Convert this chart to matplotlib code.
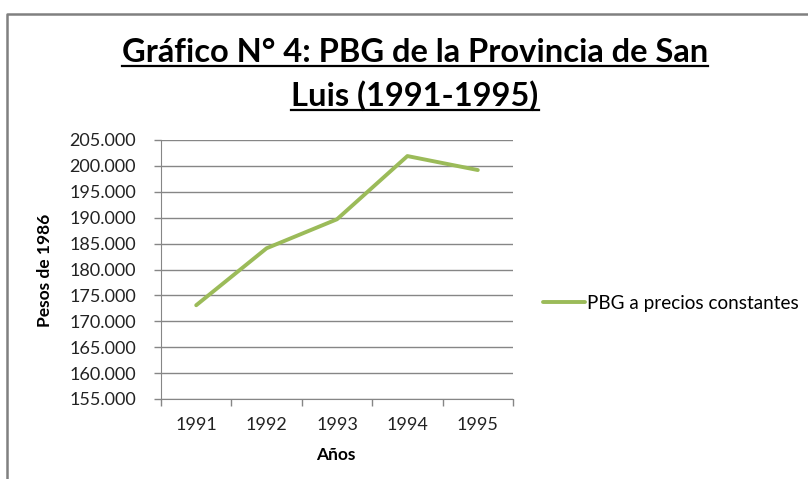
import matplotlib
matplotlib.use("Agg")
import matplotlib.pyplot as plt
from matplotlib.ticker import FuncFormatter
from matplotlib.lines import Line2D

# datos
years = ["1991", "1992", "1993", "1994", "1995"]
pbg = [173100, 184100, 189700, 201900, 199200]
yticks = list(range(155000, 205001, 5000))
title_lines = ["Gráfico N° 4: PBG de la Provincia de San", "Luis (1991-1995)"]
serie = "PBG a precios constantes"

plt.rcParams['font.family'] = ['Lato', 'DejaVu Sans']
W, H = 808, 479
green = "#9BBB59"
gray = "#868686"

fig = plt.figure(figsize=(W/100, H/100), dpi=100)
ax = fig.add_axes([161/W, 1-399/H, (513-161)/W, (399-140)/H])

x = list(range(len(years)))
ax.plot(x, pbg, color=green, lw=2.8, solid_capstyle="round", solid_joinstyle="round", label=serie)

ax.set_xlim(-0.5, len(years)-0.5)
ax.set_ylim(yticks[0], yticks[-1])
ax.set_yticks(yticks)
ax.yaxis.set_major_formatter(FuncFormatter(lambda v, p: f"{int(v):,}".replace(",", ".")))
ax.yaxis.grid(True, color=gray, lw=1)
ax.set_axisbelow(True)

ax.set_xticks([i - 0.5 for i in range(len(years)+1)])
ax.set_xticklabels([])
ax.set_xticks(x, minor=True)
ax.set_xticklabels(years, minor=True)
ax.tick_params(axis='x', which='minor', length=0, pad=13, labelsize=13, colors="#222222")
ax.tick_params(axis='x', which='major', length=5, color=gray, width=1)
ax.tick_params(axis='y', length=5, color=gray, width=1, pad=13, labelsize=13, labelcolor="#222222")
for s in ['top', 'right']:
    ax.spines[s].set_visible(False)
for s in ['left', 'bottom']:
    ax.spines[s].set_color(gray)

fig.legend(loc="center left", bbox_to_anchor=(543/W, 1-303/H), frameon=False,
           fontsize=13.6, handlelength=2.2, handletextpad=0.15, borderpad=0, borderaxespad=0)

fig.text(45/W, 1-270/H, "Pesos de 1986", rotation=90, ha="center", va="center",
         fontsize=12.5, fontweight="bold")
fig.text(336/W, 1-455/H, "Años", ha="center", va="center", fontsize=12.5, fontweight="bold")

# titulo subrayado
fig.canvas.draw()
r = fig.canvas.get_renderer()
for txt, base in zip(title_lines, [62, 106]):
    t = fig.text(415/W, 1-base/H, txt, ha="center", va="baseline", fontsize=23.5, fontweight="bold")
    bb = t.get_window_extent(renderer=r)
    yl = (H - base - 4) / H
    fig.add_artist(Line2D([bb.x0/W, bb.x1/W], [yl, yl], color="black", lw=1.6))

# marco del area del grafico
fig.add_artist(Line2D([7/W, 7/W, 1], [0, 1-14/H, 1-14/H], color="#808080", lw=1.8))

fig.savefig("out.png", dpi=100)
